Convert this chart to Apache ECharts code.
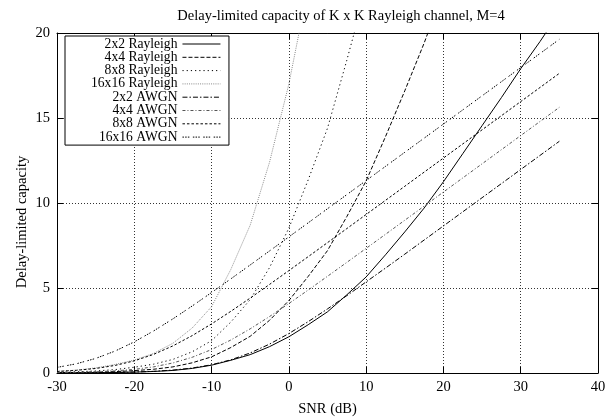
<!DOCTYPE html>
<html><head><meta charset="utf-8">
<script src="https://cdn.jsdelivr.net/npm/echarts@6/dist/echarts.min.js"></script>
<style>html,body{margin:0;padding:0;background:#fff}#c{width:616px;height:417px}</style>
</head><body><div id="c"></div>
<script>
const titleText = 'Delay-limited capacity of K x K Rayleigh channel, M=4';
const xLabel = 'SNR (dB)';
const yLabel = 'Delay-limited capacity';
const seriesNames = ['2x2 Rayleigh','4x4 Rayleigh','8x8 Rayleigh','16x16 Rayleigh','2x2 AWGN','4x4 AWGN','8x8 AWGN','16x16 AWGN'];
const snr = [-30,-27.5,-25,-22.5,-20,-17.5,-15,-12.5,-10,-7.5,-5,-2.5,0,2.5,5,7.5,10,12.5,15,17.5,20,22.5,25,27.5,30,32.5,35];
const ray2  = [0.006,0.01,0.018,0.03,0.05,0.09,0.15,0.27,0.46,0.75,1.08,1.55,2.13,2.84,3.6,4.6,5.65,6.95,8.3,9.7,11.25,12.9,14.55,16.2,17.9,19.5,21.2];
const ray4  = [0.02,0.03,0.05,0.08,0.14,0.22,0.36,0.6,0.95,1.5,2.16,3.1,4.26,5.68,7.2,9.2,11.3,13.9,16.6,19.4,22.5,25.8,29.1,32.4,35.8,39,42.4];
const ray8  = [0.04,0.07,0.12,0.2,0.34,0.52,0.8,1.25,1.9,3.0,4.32,6.2,8.52,11.36,14.4,18.4,22.6,27.8,33.2,38.8,45,51.6,58.2,64.8,71.6,78,84.8];
const ray16 = [0.1,0.17,0.3,0.5,0.76,1.15,1.75,2.65,3.9,6.1,8.7,12.4,17.0,22.7,28.8,36.8,45.2,55.6,66.4,77.6,90,103,116,130,143,156,170];
const awgn2  = [0.006,0.010,0.018,0.032,0.057,0.099,0.172,0.293,0.485,0.775,1.18,1.70,2.32,3.02,3.77,4.55,5.36,6.17,6.99,7.82,8.65,9.48,10.31,11.14,11.97,12.80,13.63];
const awgn4  = [0.023,0.041,0.071,0.124,0.214,0.361,0.591,0.926,1.379,1.943,2.599,3.321,4.087,4.880,5.689,6.507,7.331,8.157,8.986,9.815,10.645,11.474,12.305,13.135,13.966,14.796,15.627];
const awgn8  = [0.090,0.156,0.266,0.444,0.714,1.096,1.596,2.201,2.888,3.630,4.408,5.209,6.022,6.843,7.668,8.495,9.324,10.154,10.984,11.814,12.644,13.474,14.305,15.135,15.966,16.796,17.627];
const awgn16 = [0.329,0.541,0.856,1.287,1.832,2.473,3.185,3.944,4.734,5.540,6.357,7.180,8.006,8.833,9.663,10.492,11.322,12.152,12.983,13.813,14.644,15.474,16.305,17.135,17.966,18.796,19.627];
const xTicks = {min:-30, max:40, step:10};
const yTicks = {min:0, max:20, step:5};

const values = [ray2, ray4, ray8, ray16, awgn2, awgn4, awgn8, awgn16];
const styles = [
  {color:'#000', type:'solid'},
  {color:'#000', type:[4,2]},
  {color:'#000', type:[1.2,3]},
  {color:'#888', type:[1,1.2]},
  {color:'#000', type:[5,2,1.5,2]},
  {color:'#555', type:[3,2,1,2]},
  {color:'#000', type:[2.5,2]},
  {color:'#000', type:[1.5,1.2,1.5,1.2,1.5,3.5]}
];
const FONT = 'Liberation Serif';
const chart = echarts.init(document.getElementById('c'), null, {renderer:'canvas'});
const axisCommon = {
  axisLine:{onZero:false, lineStyle:{color:'#000', width:1}},
  axisTick:{inside:true, length:6, lineStyle:{color:'#000'}},
};
chart.setOption({
  animation:false,
  backgroundColor:'#fff',
  title:{text:titleText, left:336, textAlign:'center', top:4,
    textStyle:{fontFamily:FONT, fontSize:14.5, fontWeight:'normal', color:'#000'}},
  grid:{left:57, right:18, top:33, bottom:44, show:false, containLabel:false, outerBoundsMode:'none'},
  legend:{
    orient:'vertical', left:65, top:36, align:'right',
    backgroundColor:'#fff', borderColor:'#000', borderWidth:1,
    padding:[1,8,1,26], itemGap:-0.7, itemWidth:38, itemHeight:8,
    itemStyle:{opacity:0},
    lineStyle:{width:1},
    textStyle:{fontFamily:FONT, fontSize:13.6, color:'#000', lineHeight:13},
    data: seriesNames
  },
  xAxis:[
    Object.assign({type:'value', min:xTicks.min, max:xTicks.max, interval:xTicks.step, position:'bottom',
      axisLabel:{color:'#000', fontFamily:FONT, fontSize:14.5, margin:7},
      splitLine:{show:true, lineStyle:{color:'#333', type:[1,2], width:1}},
      name:xLabel, nameLocation:'middle', nameGap:29, nameMoveOverlap:false,
      nameTextStyle:{fontFamily:FONT, fontSize:14.5, color:'#000'}}, axisCommon),
    Object.assign({type:'value', min:xTicks.min, max:xTicks.max, interval:xTicks.step, position:'top',
      axisLabel:{show:false}, splitLine:{show:false}}, axisCommon)
  ],
  yAxis:[
    Object.assign({type:'value', min:yTicks.min, max:yTicks.max, interval:yTicks.step, position:'left',
      axisLabel:{color:'#000', fontFamily:FONT, fontSize:14.5, margin:7},
      splitLine:{show:true, lineStyle:{color:'#333', type:[1,2], width:1}},
      name:yLabel, nameLocation:'middle', nameGap:27, nameMoveOverlap:false,
      nameTextStyle:{fontFamily:FONT, fontSize:14.5, color:'#000', padding:[0,38,0,0]}}, axisCommon),
    Object.assign({type:'value', min:yTicks.min, max:yTicks.max, interval:yTicks.step, position:'right',
      axisLabel:{show:false}, splitLine:{show:false}}, axisCommon)
  ],
  series: seriesNames.map((n,i)=>({
    name:n, type:'line', xAxisIndex:0, yAxisIndex:0, symbol:'none', clip:true,
    smooth:false,
    lineStyle:{color:styles[i].color, type:styles[i].type, width:1},
    itemStyle:{color:styles[i].color},
    data: snr.map((x,j)=>[x, values[i][j]])
  }))
});
</script></body></html>
